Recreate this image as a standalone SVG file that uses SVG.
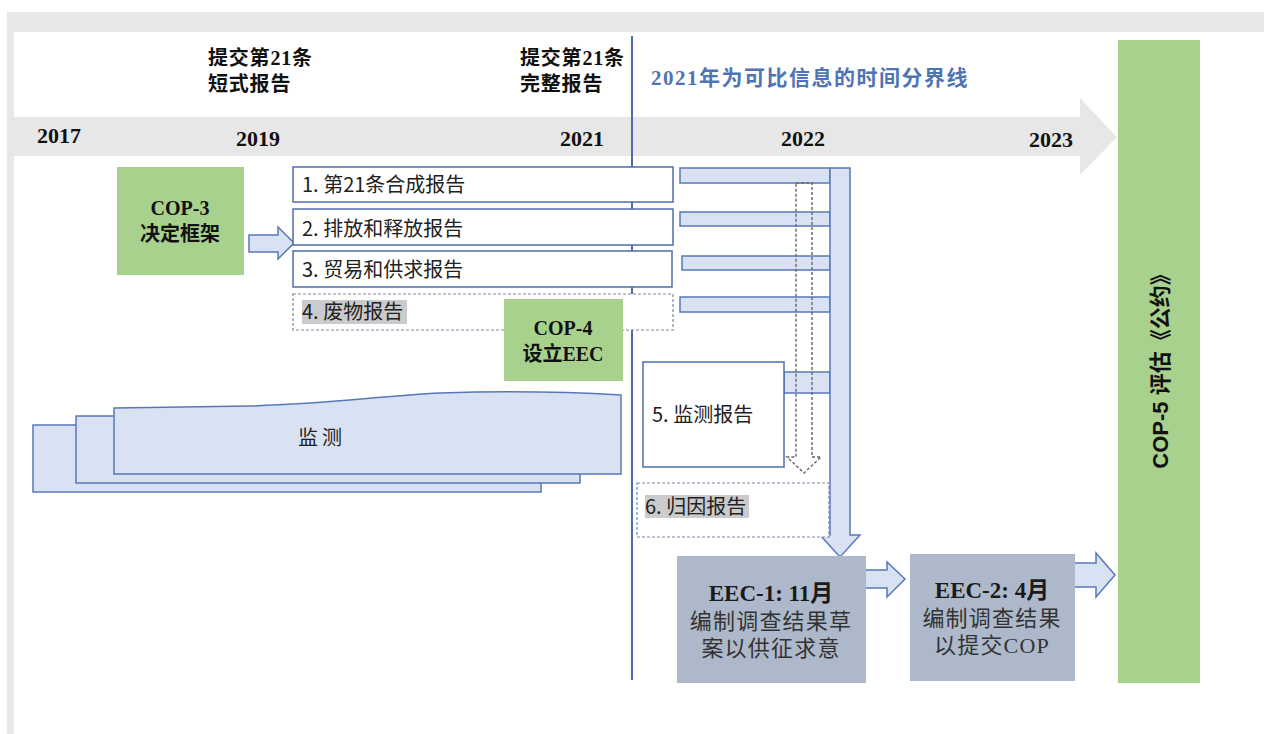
<svg xmlns="http://www.w3.org/2000/svg" width="1264" height="734" viewBox="0 0 1264 734">
<defs>
<style>
.yr{font-family:"Liberation Serif",serif;font-weight:bold;font-size:22px;fill:#111}
.hd{font-family:"Liberation Serif","Noto Sans CJK SC",sans-serif;font-weight:bold;font-size:20px;fill:#111;letter-spacing:0.8px}
.rp{font-family:"Noto Sans CJK SC",sans-serif;font-size:20px;fill:#222}
.gb{font-family:"Liberation Serif","Noto Sans CJK SC",sans-serif;font-weight:bold;font-size:20px;fill:#111;text-anchor:middle}
.eb{font-family:"Liberation Serif","Noto Sans CJK SC",sans-serif;font-weight:bold;font-size:23px;fill:#1a1a1a;text-anchor:middle}
.en{font-family:"Liberation Serif","Noto Sans CJK SC",sans-serif;font-size:22px;fill:#333;text-anchor:middle;letter-spacing:1.2px}
.box{fill:#fff;stroke:#4f6eaa;stroke-width:1.5}
.dbox{fill:#fff;stroke:#7a87a0;stroke-width:1.2;stroke-dasharray:3 2}
.green{fill:#a9d18e}
.eec{fill:#adb9ca}
.blk{fill:#d9e2f3;stroke:#5877b9;stroke-width:1.5}
.hl{fill:#cbcbcb}
</style>
</defs>

<g id="frame">
<rect x="0" y="0" width="1264" height="734" fill="#fff"/>
<rect x="7" y="12" width="1257" height="722" fill="#e7e7e7"/>
<rect x="14" y="32" width="1250" height="702" fill="#fff"/>
</g>

<g id="timeline">
<polygon points="14,117 1080,117 1080,98 1117,137 1080,175 1080,156 14,156" fill="#e7e7e7"/>
<text class="yr" x="37" y="143">2017</text>
<text class="yr" x="236" y="146">2019</text>
<text class="yr" x="560" y="146">2021</text>
<text class="yr" x="781" y="146">2022</text>
<text class="yr" x="1029" y="147">2023</text>
</g>

<g id="headers">
<text class="hd" x="208" y="65">提交第21条</text>
<text class="hd" x="208" y="91">短式报告</text>
<text class="hd" x="520" y="65">提交第21条</text>
<text class="hd" x="520" y="91">完整报告</text>
</g>

<g id="divider">
<line x1="632" y1="36" x2="632" y2="680" stroke="#4a6db0" stroke-width="2"/>
<text x="651" y="85" font-family="Liberation Serif, Noto Sans CJK SC, sans-serif" font-weight="bold" font-size="21" fill="#4f74b5" letter-spacing="1.5">2021年为可比信息的时间分界线</text>
</g>

<g id="monitoring">
<rect x="33" y="425" width="508" height="67" class="blk"/>
<rect x="76" y="416" width="504" height="67" class="blk"/>
<path d="M114,408 L250,406 C330,404 380,396 440,393 C500,391 570,392 621,395 L621,474 L114,474 Z" class="blk"/>
<text class="rp" x="298" y="445" letter-spacing="4">监测</text>
</g>

<g id="cop3">
<rect x="117" y="167" width="127" height="108" class="green"/>
<text class="gb" x="180" y="215">COP-3</text>
<text class="gb" x="180" y="241">决定框架</text>
</g>

<g id="connectors">
<rect x="680" y="168" width="150" height="15" class="blk"/>
<rect x="680" y="212" width="150" height="14" class="blk"/>
<rect x="682" y="256" width="148" height="14" class="blk"/>
<rect x="680" y="297" width="150" height="15" class="blk"/>
<rect x="784" y="372" width="46" height="21" class="blk"/>
<polygon points="830,168 850,168 850,535 860,535 840,557 820,535 830,535" class="blk"/>
<polygon points="796,183 812,183 812,457 821,457 804,473 787,457 796,457" fill="none" stroke="#666" stroke-width="1.4" stroke-dasharray="3 2"/>
<polygon points="249,235 278,235 278,227 294,243 278,259 278,252 249,252" class="blk"/>
<polygon points="856,570 887,570 887,562 905,579 887,597 887,588 856,588" class="blk"/>
<polygon points="1066,563 1096,563 1096,553 1115,575 1096,597 1096,587 1066,587" class="blk"/>
</g>

<g id="r1">
<rect x="293" y="167" width="380" height="35" class="box"/>
<text class="rp" x="302" y="192">1. 第21条合成报告</text>
</g>
<g id="r2">
<rect x="293" y="209" width="380" height="36" class="box"/>
<text class="rp" x="302" y="236">2. 排放和释放报告</text>
</g>
<g id="r3">
<rect x="293" y="251" width="379" height="36" class="box"/>
<text class="rp" x="302" y="277">3. 贸易和供求报告</text>
</g>
<g id="r4">
<rect x="293" y="294" width="380" height="36" class="dbox"/>
<rect x="302" y="300" width="105" height="24" class="hl"/>
<text class="rp" x="302" y="319">4. 废物报告</text>
</g>

<g id="cop4">
<rect x="504" y="299" width="119" height="82" class="green"/>
<text class="gb" x="563" y="335">COP-4</text>
<text class="gb" x="563" y="361">设立EEC</text>
</g>

<g id="r5">
<rect x="643" y="362" width="141" height="105" class="box"/>
<text class="rp" x="652" y="422">5. 监测报告</text>
</g>
<g id="r6">
<rect x="637" y="483" width="192" height="54" class="dbox"/>
<rect x="645" y="495" width="104" height="23" class="hl"/>
<text class="rp" x="645" y="514">6. 归因报告</text>
</g>

<g id="eec1">
<rect x="677" y="556" width="189" height="127" class="eec"/>
<text class="eb" x="771" y="601">EEC-1: 11月</text>
<text class="en" x="771" y="629">编制调查结果草</text>
<text class="en" x="771" y="656">案以供征求意</text>
</g>
<g id="eec2">
<rect x="910" y="554" width="165" height="127" class="eec"/>
<text class="eb" x="992" y="598">EEC-2: 4月</text>
<text class="en" x="992" y="626">编制调查结果</text>
<text class="en" x="992" y="653">以提交COP</text>
</g>

<g id="cop5">
<rect x="1118" y="40" width="82" height="643" class="green"/>
<text transform="translate(1168,366) rotate(-90)" x="0" y="0" text-anchor="middle" font-family="Liberation Sans, Noto Sans CJK SC, sans-serif" font-weight="bold" font-size="22" fill="#111">COP-5 评估《公约》</text>
</g>
</svg>
